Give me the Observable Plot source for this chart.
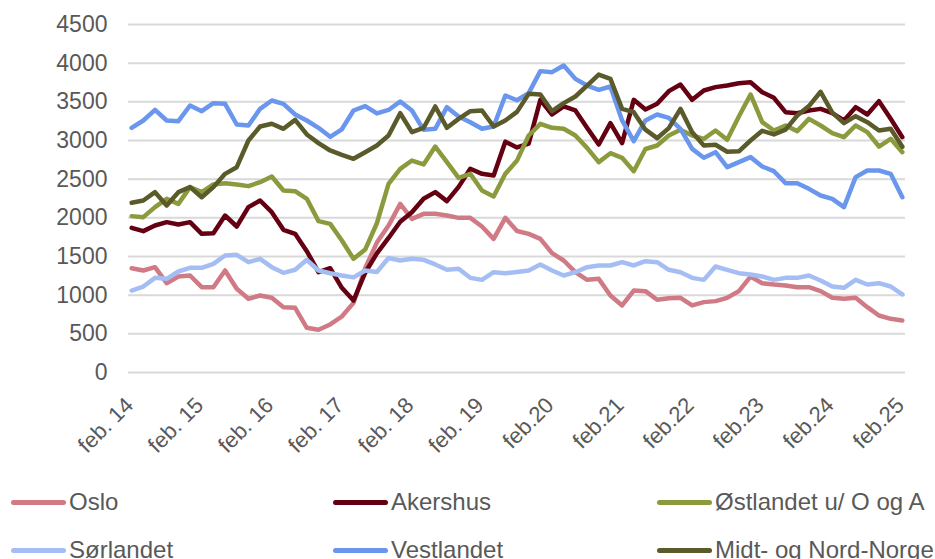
<!DOCTYPE html>
<html>
<head>
<meta charset="utf-8">
<script src="https://cdn.jsdelivr.net/npm/d3@7"></script>
<script src="https://cdn.jsdelivr.net/npm/@observablehq/plot@0.6"></script>
<style>
  html, body { margin: 0; padding: 0; background: #fff; }
  #wrap { position: relative; width: 935px; height: 559px; overflow: hidden; font-family: "Liberation Sans", Arial, sans-serif; }
  #legend { position: absolute; left: 0; top: 0; width: 935px; height: 559px; pointer-events: none; }
  .item { position: absolute; display: flex; align-items: center; font-size: 24px; color: #595959; white-space: nowrap; line-height: 1; }
  .sw { width: 55px; height: 5px; border-radius: 3px; margin-right: 3px; }
</style>
</head>
<body>
<div id="wrap"><div id="chart"></div><div id="legend"></div></div>
<script>
// ---- data (bimonthly, feb.14 .. feb.25) ----
const seriesNames = ["Oslo", "Akershus", "Østlandet u/ O og A", "Sørlandet", "Vestlandet", "Midt- og Nord-Norge"];
const seriesColors = ["#D07A86", "#650012", "#8C9A3E", "#A4BEF4", "#6A96EE", "#5A5A2B"];
const xLabels = ["feb. 14", "feb. 15", "feb. 16", "feb. 17", "feb. 18", "feb. 19", "feb.20", "feb.21", "feb.22", "feb.23", "feb.24", "feb.25"];
const yTicks = [0, 500, 1000, 1500, 2000, 2500, 3000, 3500, 4000, 4500];

const oslo = [1349,1319,1362,1155,1241,1254,1103,1103,1319,1082,953,
  996,966,845,836,578,552,621,724,900,1350,1680,
  1900,2180,1987,2052,2052,2030,2000,2000,1888,1728,2000,
  1830,1793,1728,1543,1448,1297,1198,1211,996,867,1060,
  1052,940,961,966,867,910,923,966,1052,1240,1155,1138,
  1125,1103,1103,1052,966,953,966,845,737,694,672];
const akershus = [1871,1828,1901,1944,1914,1944,1793,1802,2030,1888,2138,
  2224,2073,1845,1793,1569,1298,1349,1095,931,1290,1540,
  1740,1950,2073,2246,2332,2216,2400,2634,2569,2548,2985,
  2910,2960,3526,3336,3440,3388,3164,2948,3224,2966,3526,
  3400,3474,3638,3724,3526,3647,3690,3711,3741,3754,3625,3552,
  3366,3353,3388,3409,3353,3259,3431,3336,3509,3280,3043];
const ostlandet = [2022,2009,2138,2246,2181,2397,2332,2431,2448,2431,2410,
  2461,2534,2353,2345,2246,1957,1922,1707,1470,1590,1930,
  2440,2634,2741,2690,2922,2720,2517,2569,2353,2276,2569,
  2740,3065,3216,3164,3151,3065,2905,2720,2836,2776,2603,
  2890,2935,3065,3138,3065,3022,3129,3009,3310,3595,3237,3129,
  3194,3121,3280,3194,3095,3043,3194,3108,2922,3022,2849];
const sorlandet = [1060,1112,1224,1211,1306,1353,1353,1405,1513,1522,1427,
  1470,1362,1289,1328,1457,1319,1284,1254,1230,1319,1300,
  1480,1448,1470,1457,1397,1328,1341,1224,1198,1297,1284,
  1300,1319,1397,1319,1254,1297,1362,1384,1384,1427,1384,
  1440,1427,1328,1297,1224,1198,1371,1328,1284,1267,1241,1198,
  1224,1224,1254,1190,1112,1095,1198,1138,1155,1112,1009];
const vestlandet = [3164,3259,3397,3259,3250,3453,3379,3483,3474,3207,3194,
  3410,3517,3474,3336,3259,3164,3048,3145,3388,3445,3350,
  3395,3505,3388,3138,3151,3431,3310,3237,3151,3181,3582,
  3520,3612,3897,3884,3970,3797,3711,3655,3698,3259,2991,
  3259,3336,3293,3151,2892,2776,2849,2655,2720,2785,2664,2603,
  2448,2448,2375,2289,2246,2138,2526,2612,2612,2569,2267];
const midtnord = [2194,2224,2332,2160,2332,2397,2267,2397,2569,2655,3000,
  3181,3216,3151,3267,3078,2966,2871,2815,2763,2849,2935,
  3065,3353,3108,3164,3440,3164,3280,3379,3388,3181,3259,
  3370,3603,3595,3379,3483,3569,3711,3853,3797,3409,3366,
  3140,3030,3160,3409,3108,2935,2945,2855,2860,3000,3125,3078,
  3140,3323,3445,3630,3360,3225,3315,3237,3129,3151,2918];

const seriesValues = [oslo, akershus, ostlandet, sorlandet, vestlandet, midtnord];
const rows = [];
seriesNames.forEach((name, k) => seriesValues[k].forEach((v, i) => rows.push({i, v, s: name})));
const xTickIdx = xLabels.map((_, k) => k * 6);

const chart = Plot.plot({
  width: 935,
  height: 460,
  marginLeft: 128,
  marginRight: 30,
  marginTop: 24,
  marginBottom: 88,
  style: {fontFamily: '"Liberation Sans", Arial, sans-serif', fontSize: "22px", color: "#595959", background: "#fff", overflow: "visible"},
  x: {type: "linear", domain: [-0.27, 66.27]},
  y: {domain: [0, 4500]},
  color: {domain: seriesNames, range: seriesColors},
  marks: [
    Plot.gridY(yTicks, {stroke: "#d9d9d9", strokeOpacity: 1, strokeWidth: 2}),
    Plot.axisY(yTicks, {tickSize: 0, tickPadding: 21, fontSize: 23, fill: "#595959", label: null, tickFormat: (d) => String(d)}),
    Plot.axisX(xTickIdx, {tickSize: 0, tickRotate: -45, tickPadding: 26, dy: 3, dx: -2, fontSize: 22, fill: "#595959", label: null,
      tickFormat: (d) => xLabels[d / 6]}),
    Plot.line(rows, {x: "i", y: "v", z: "s", stroke: "s", strokeWidth: 4.5, strokeLinejoin: "round", strokeLinecap: "round"})
  ]
});
document.getElementById("chart").appendChild(chart);

// legend
const legendPos = [[11, 502], [333, 502], [657, 502], [11, 550], [333, 550], [657, 550]];
const legend = document.getElementById("legend");
seriesNames.forEach((name, k) => {
  const it = document.createElement("div");
  it.className = "item";
  it.style.left = legendPos[k][0] + "px";
  it.style.top = (legendPos[k][1] - 12) + "px";
  it.style.height = "24px";
  const sw = document.createElement("div");
  sw.className = "sw";
  sw.style.background = seriesColors[k];
  const tx = document.createElement("span");
  tx.textContent = name;
  it.appendChild(sw);
  it.appendChild(tx);
  legend.appendChild(it);
});
</script>
</body>
</html>
